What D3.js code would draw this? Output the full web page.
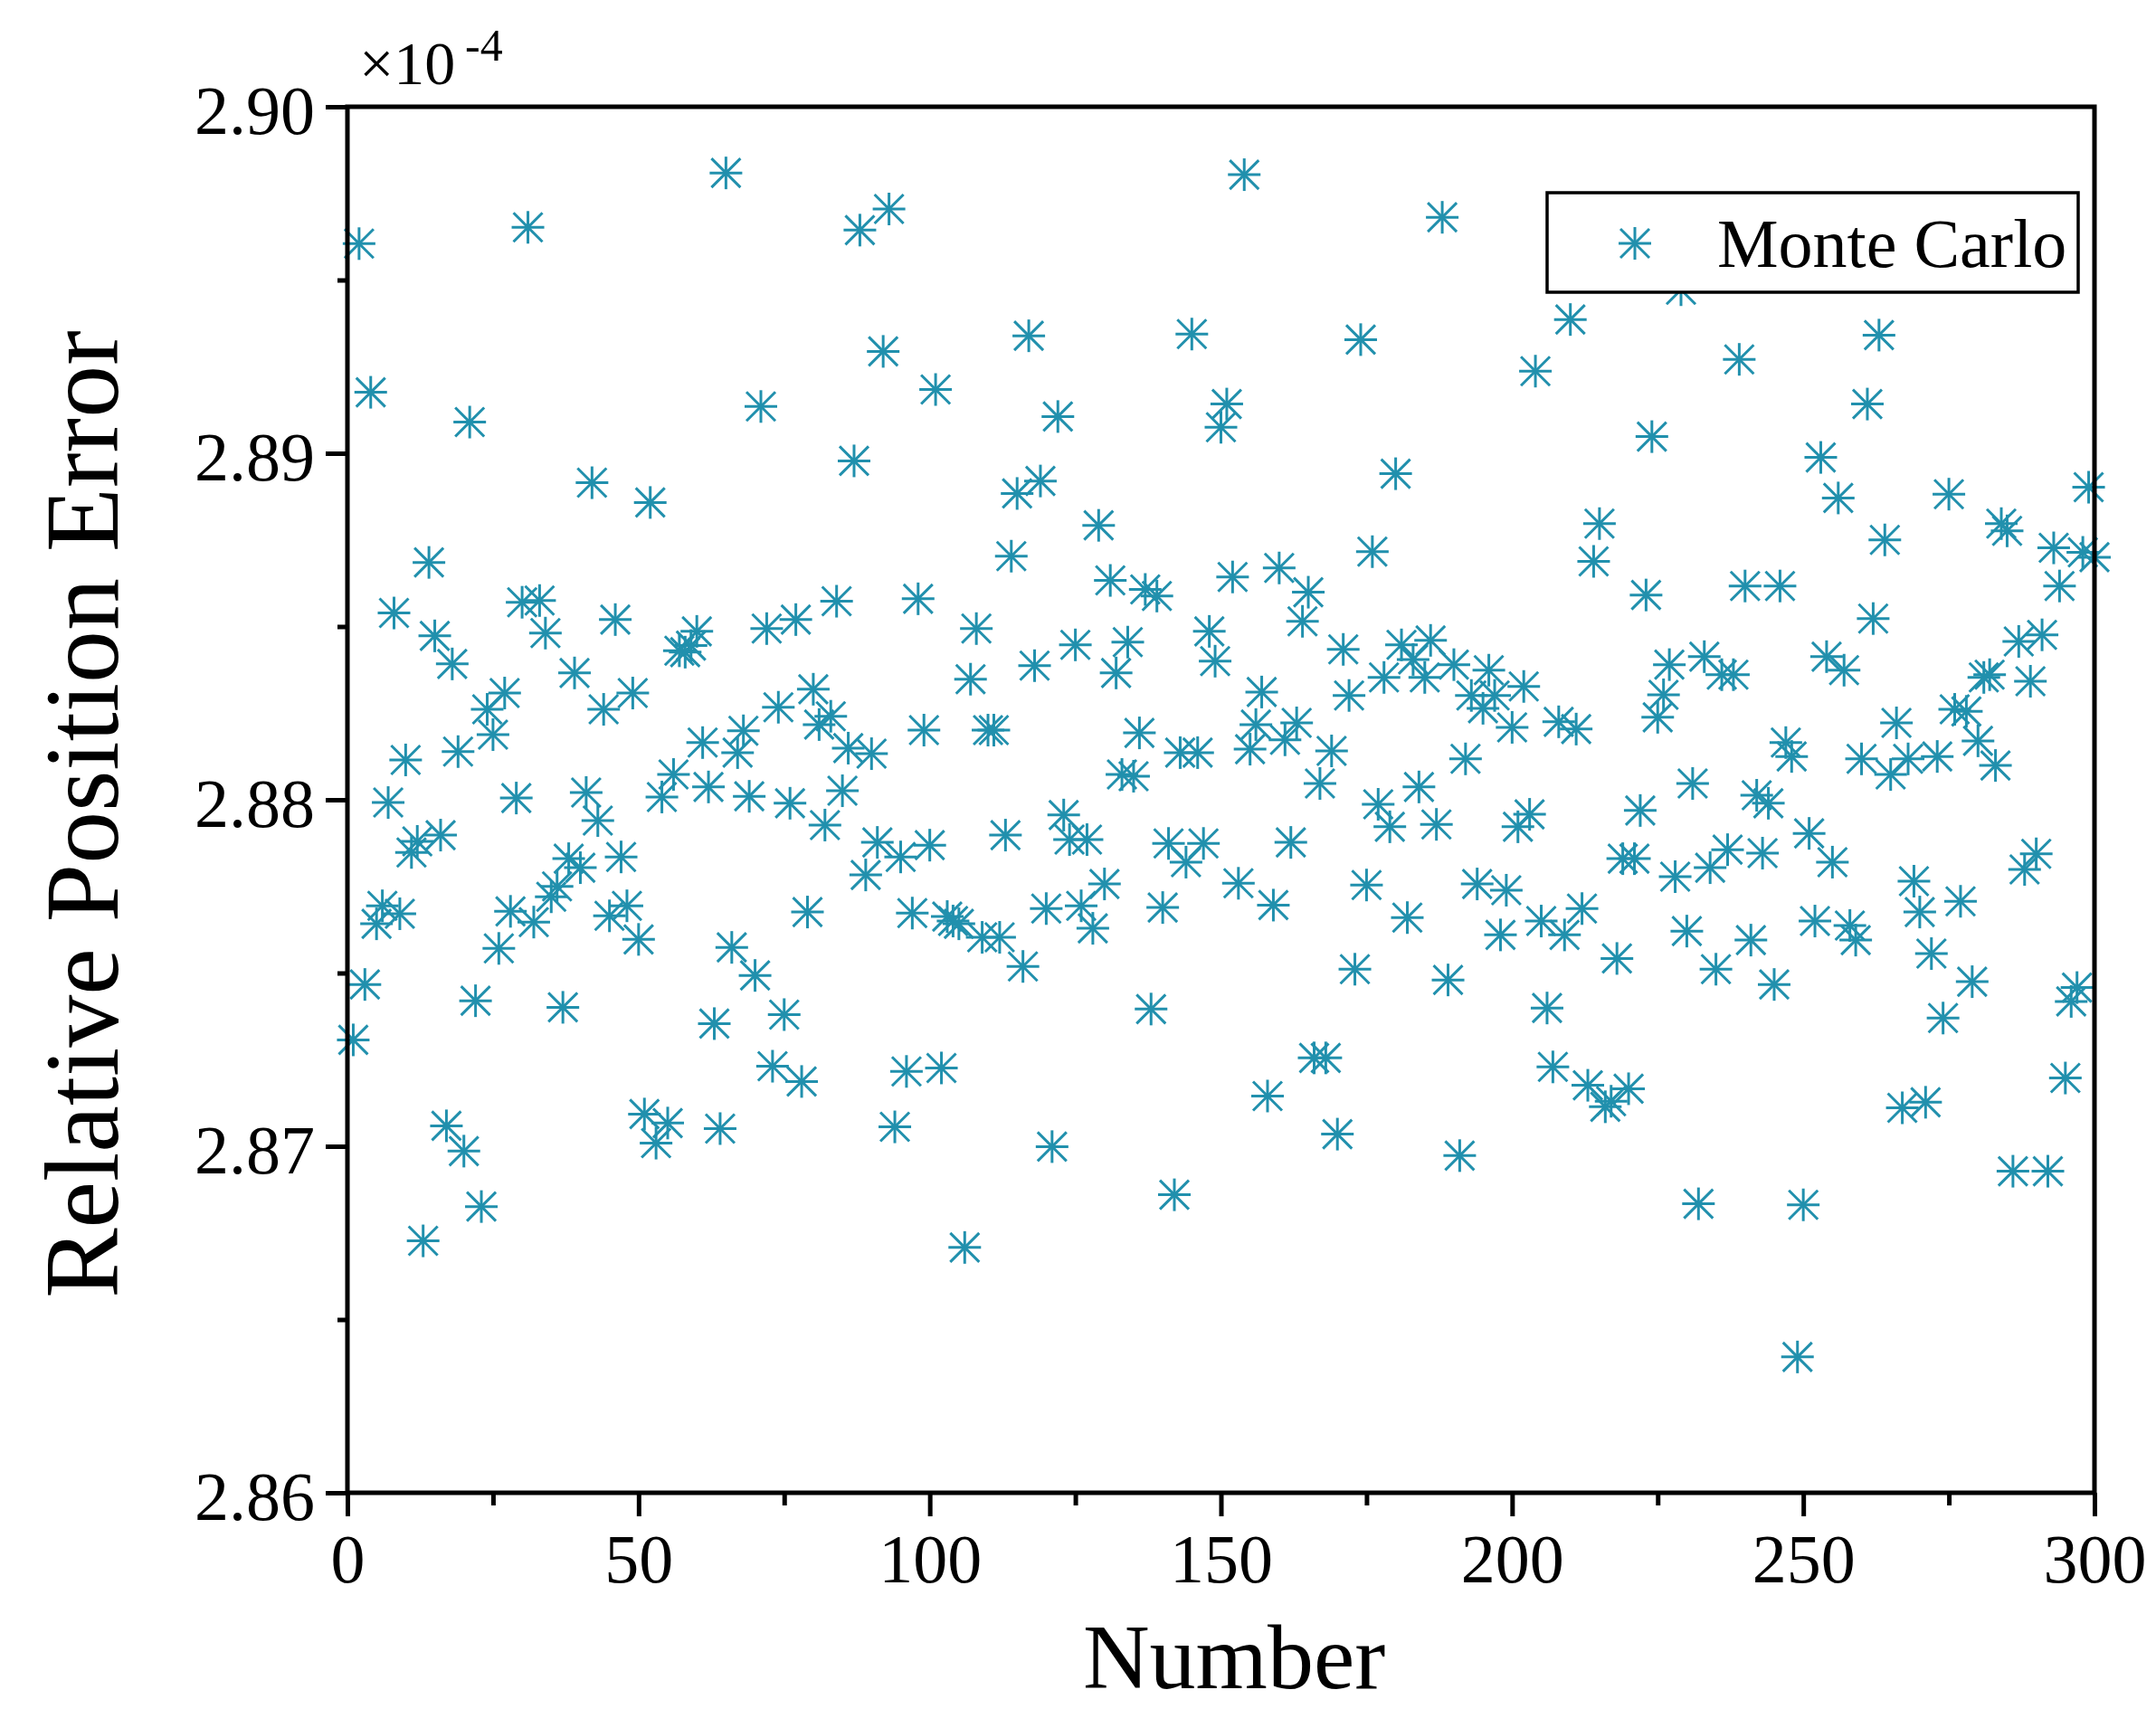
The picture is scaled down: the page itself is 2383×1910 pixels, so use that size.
<!DOCTYPE html>
<html>
<head>
<meta charset="utf-8">
<title>Relative Position Error</title>
<script src="https://cdn.jsdelivr.net/npm/d3@7"></script>
<style>
  body { margin: 0; background: #fff; }
  text { font-family: "Liberation Serif", "Times New Roman", serif; fill: #000; }
</style>
</head>
<body>
<svg id="chart" width="2383" height="1910"></svg>
<script>
// relative position error (x 1e-4) for runs 1..300
var errorVals = [
  2.87307, 2.89605, 2.87467, 2.89176, 2.87642, 2.87694, 2.87992, 2.88539, 2.87671, 2.88115,
  2.87848, 2.87880, 2.86727, 2.88685, 2.88473, 2.87898, 2.87059, 2.88392, 2.88139, 2.86986,
  2.89090, 2.87420, 2.86826, 2.88261, 2.88188, 2.87571, 2.88308, 2.87678, 2.88005, 2.88570,
  2.89652, 2.87647, 2.88575, 2.88481, 2.87720, 2.87750, 2.87401, 2.87830, 2.88366, 2.87804,
  2.88021, 2.88915, 2.87940, 2.88261, 2.87665, 2.88520, 2.87835, 2.87694, 2.88308, 2.87597,
  2.87093, 2.88858, 2.87009, 2.88008, 2.87067, 2.88073, 2.88430, 2.88426, 2.88445, 2.88486,
  2.88165, 2.88037, 2.87354, 2.87051, 2.89809, 2.87574, 2.88136, 2.88199, 2.88010, 2.87493,
  2.89135, 2.88494, 2.87231, 2.88267, 2.87380, 2.87990, 2.88520, 2.87187, 2.87676, 2.88319,
  2.88217, 2.87927, 2.88241, 2.88573, 2.88026, 2.88149, 2.88978, 2.89644, 2.87783, 2.88133,
  2.87877, 2.89294, 2.89705, 2.87056, 2.87835, 2.87216, 2.87673, 2.88580, 2.88201, 2.87869,
  2.89184, 2.87226, 2.87663, 2.87650, 2.87642, 2.86708, 2.88348, 2.88494, 2.87603, 2.88201,
  2.88201, 2.87603, 2.87898, 2.88703, 2.88884, 2.87519, 2.89339, 2.88387, 2.88920, 2.87686,
  2.86999, 2.89106, 2.87956, 2.87885, 2.88447, 2.87694, 2.87885, 2.87629, 2.88792, 2.87757,
  2.88633, 2.88366, 2.88073, 2.88455, 2.88068, 2.88193, 2.88607, 2.87396, 2.88588, 2.87689,
  2.87874, 2.86860, 2.88136, 2.87820, 2.89344, 2.88136, 2.87874, 2.88486, 2.88400, 2.89075,
  2.89142, 2.88643, 2.87759, 2.89804, 2.88146, 2.88217, 2.88311, 2.87145, 2.87696, 2.88669,
  2.88173, 2.87877, 2.88222, 2.88515, 2.88599, 2.87255, 2.88047, 2.87255, 2.88141, 2.87035,
  2.88434, 2.88301, 2.87511, 2.89328, 2.87754, 2.88716, 2.87987, 2.88353, 2.87922, 2.88941,
  2.88447, 2.87660, 2.88405, 2.88037, 2.88353, 2.88460, 2.87929, 2.89681, 2.87480, 2.88390,
  2.86973, 2.88118, 2.88301, 2.87757, 2.88264, 2.88374, 2.88301, 2.87610, 2.87739, 2.88209,
  2.87922, 2.88327, 2.87958, 2.89237, 2.87650, 2.87399, 2.87229, 2.88225, 2.87610, 2.89386,
  2.88204, 2.87686, 2.87176, 2.88688, 2.88797, 2.87114, 2.87130, 2.87542, 2.87830, 2.87166,
  2.87830, 2.87969, 2.88591, 2.89048, 2.88238, 2.88303, 2.88390, 2.87778, 2.89472, 2.87621,
  2.88047, 2.86834, 2.88413, 2.87804, 2.87511, 2.88361, 2.87856, 2.88361, 2.89271, 2.88617,
  2.87595, 2.88013, 2.87846, 2.87990, 2.87467, 2.88617, 2.88165, 2.88125, 2.86392, 2.86831,
  2.87903, 2.87650, 2.88988, 2.88413, 2.87820, 2.88871, 2.88374, 2.87637, 2.87595, 2.88118,
  2.89142, 2.88523, 2.89341, 2.88750, 2.88073, 2.88222, 2.87111, 2.88118, 2.87765, 2.87676,
  2.87127, 2.87556, 2.88125, 2.87370, 2.88882, 2.88261, 2.87707, 2.88255, 2.87475, 2.88170,
  2.88353, 2.88361, 2.88099, 2.88797, 2.88776, 2.86928, 2.88457, 2.87799, 2.88342, 2.87844,
  2.88476, 2.86928, 2.88727, 2.88617, 2.87197, 2.87418, 2.87458, 2.88714, 2.88902, 2.88700
];

var xTicks = [0, 50, 100, 150, 200, 250, 300];
var xMinorTicks = [25, 75, 125, 175, 225, 275];
var yTicks = [2.86, 2.87, 2.88, 2.89, 2.90];
var yMinorTicks = [2.865, 2.875, 2.885, 2.895];
var seriesName = "Monte Carlo";

var color = "#2190ad";
var plotL = 384, plotR = 2315, plotT = 118, plotB = 1650;

var svg = d3.select("#chart");

var x = d3.scaleLinear().domain([0, 300]).range([plotL, plotR]);
var y = d3.scaleLinear().domain([2.86, 2.90]).range([plotB, plotT]);

// asterisk marker: plus + cross
function star(g) {
    var r = 18, d = 16;
    g.append("line").attr("x1", -r).attr("x2", r).attr("y1", 0).attr("y2", 0);
    g.append("line").attr("x1", 0).attr("x2", 0).attr("y1", -r).attr("y2", r);
    g.append("line").attr("x1", -d).attr("x2", d).attr("y1", -d).attr("y2", d);
    g.append("line").attr("x1", -d).attr("x2", d).attr("y1", d).attr("y2", -d);
}

// points
var pts = svg.append("g").attr("class", "points")
    .attr("stroke", color).attr("stroke-width", 3).attr("fill", "none");

pts.selectAll("g")
    .data(errorVals)
    .enter().append("g")
    .attr("transform", function(d, i) { return "translate(" + x(i + 1) + "," + y(d) + ")"; })
    .each(function() { star(d3.select(this)); });

// axes
var xAxis = svg.append("g")
    .attr("transform", "translate(0," + plotB + ")")
    .call(d3.axisBottom(x).tickValues(xTicks).tickSize(26).tickSizeOuter(0).tickPadding(18).tickFormat(d3.format("d")));

svg.append("g")
    .attr("transform", "translate(0," + plotB + ")")
    .call(d3.axisBottom(x).tickValues(xMinorTicks).tickSize(14).tickSizeOuter(0).tickFormat(""));

var yAxis = svg.append("g")
    .attr("transform", "translate(" + plotL + ",0)")
    .call(d3.axisLeft(y).tickValues(yTicks).tickSize(24).tickSizeOuter(0).tickPadding(12).tickFormat(d3.format(".2f")));

svg.append("g")
    .attr("transform", "translate(" + plotL + ",0)")
    .call(d3.axisLeft(y).tickValues(yMinorTicks).tickSize(11).tickSizeOuter(0).tickFormat(""));

svg.selectAll(".domain").remove();
svg.selectAll(".tick line").attr("stroke", "#000").attr("stroke-width", 5);
svg.selectAll(".tick text")
    .style("font-family", "'Liberation Serif', 'Times New Roman', serif")
    .attr("font-size", 76)
    .attr("fill", "#000");
xAxis.selectAll(".tick text").attr("dy", "0.72em");
yAxis.selectAll(".tick text").attr("dy", "0.39em");

// frame
svg.append("rect")
    .attr("x", plotL).attr("y", plotT)
    .attr("width", plotR - plotL).attr("height", plotB - plotT)
    .attr("fill", "none").attr("stroke", "#000").attr("stroke-width", 5);

// exponent
var expo = svg.append("text").attr("x", 397).attr("y", 93).attr("font-size", 68);
expo.append("tspan").text("\u00d710");
expo.append("tspan").attr("x", 514).attr("y", 67).attr("font-size", 50).text("-4");

// axis titles
svg.append("text")
    .attr("x", 1364).attr("y", 1866)
    .attr("text-anchor", "middle")
    .attr("font-size", 102)
    .text("Number");

svg.append("text")
    .attr("transform", "translate(130,900) rotate(-90)")
    .attr("text-anchor", "middle")
    .attr("font-size", 116)
    .text("Relative Position Error");

// legend
var legend = svg.append("g");
legend.append("rect")
    .attr("x", 1710).attr("y", 213).attr("width", 587).attr("height", 110)
    .attr("fill", "#fff").attr("stroke", "#000").attr("stroke-width", 3.5);
legend.append("g")
    .attr("transform", "translate(1807,269)")
    .attr("stroke", color).attr("stroke-width", 3)
    .call(star);
legend.append("text")
    .attr("x", 1898).attr("y", 295)
    .attr("font-size", 76)
    .text(seriesName);
</script>
</body>
</html>
